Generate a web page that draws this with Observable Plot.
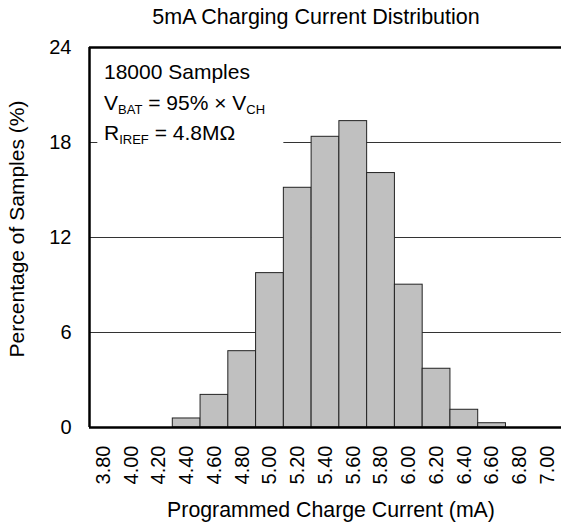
<!DOCTYPE html>
<html>
<head>
<meta charset="utf-8">
<script src="https://cdn.jsdelivr.net/npm/d3@7"></script>
<script src="https://cdn.jsdelivr.net/npm/@observablehq/plot@0.6"></script>
<style>
  html, body { margin: 0; padding: 0; background: #fff; }
  svg { display: block; }
</style>
</head>
<body>
<div id="chart"></div>
<script>
const categories = [3.80, 4.00, 4.20, 4.40, 4.60, 4.80, 5.00, 5.20, 5.40, 5.60, 5.80, 6.00, 6.20, 6.40, 6.60, 6.80, 7.00];
const percentages = [0, 0, 0, 0.57, 2.06, 4.82, 9.75, 15.14, 18.36, 19.35, 16.07, 9.02, 3.71, 1.12, 0.27, 0, 0];
const binHalfWidth = 0.1;
const xDomain = [3.7, 7.1];
const yTicks = [0, 6, 12, 18, 24];
const gridValues = [6, 12];
const titleText = "5mA Charging Current Distribution";
const xLabel = "Programmed Charge Current (mA)";
const yLabel = "Percentage of Samples (%)";

const data = categories.map((c, i) => ({x: c, pct: percentages[i]}));
const FONT = "'Liberation Sans', Arial, Helvetica, sans-serif";

const plot = Plot.plot({
  width: 561,
  height: 527,
  marginLeft: 89,
  marginRight: 0,
  marginTop: 47,
  marginBottom: 100,
  style: {fontFamily: FONT, fontSize: "20px", color: "#000", background: "#fff"},
  x: {domain: xDomain, ticks: categories, tickFormat: d3.format(".2f"), label: null, tickSize: 0, tickRotate: -90, tickPadding: 18},
  y: {domain: [0, 24], ticks: yTicks, label: null, tickSize: 0, tickPadding: 18},
  marks: [
    Plot.ruleY(gridValues, {stroke: "#333", strokeWidth: 1}),
    // 18% gridline: short stub at the axis, then resumes right of the annotation block
    Plot.ruleY([18], {x1: xDomain[0], x2: xDomain[0] + 0.06, stroke: "#333", strokeWidth: 1}),
    Plot.ruleY([18], {x1: categories[7] - binHalfWidth, x2: xDomain[1], stroke: "#333", strokeWidth: 1}),
    Plot.rectY(data, {x1: d => d.x - binHalfWidth, x2: d => d.x + binHalfWidth, y: "pct", fill: "#c0c0c0", stroke: "#222", strokeWidth: 1, inset: 0}),
    Plot.ruleY([0], {stroke: "#000", strokeWidth: 2.5}),
    Plot.ruleY([24], {stroke: "#000", strokeWidth: 2.5}),
    Plot.ruleX([xDomain[0]], {y1: 0, y2: 24, stroke: "#000", strokeWidth: 2.5})
  ]
});

const svg = d3.select(plot);
const g = svg.append("g").attr("font-family", FONT).attr("fill", "#000");

g.append("text").attr("x", 316).attr("y", 24).attr("text-anchor", "middle")
  .attr("font-size", 21.5).text(titleText);

g.append("text").attr("x", 331).attr("y", 517).attr("text-anchor", "middle")
  .attr("font-size", 21.3).text(xLabel);

g.append("text").attr("transform", "translate(24,229) rotate(-90)").attr("text-anchor", "middle")
  .attr("font-size", 21).text(yLabel);

// annotation
const ann = g.append("g").attr("font-size", 21).attr("text-anchor", "start");
ann.append("text").attr("x", 104).attr("y", 79).text("18000 Samples");

const l2 = ann.append("text").attr("x", 104).attr("y", 110);
l2.append("tspan").text("V");
l2.append("tspan").attr("font-size", 13).attr("dy", 4).text("BAT");
l2.append("tspan").attr("dy", -4).text(" = 95% × V");
l2.append("tspan").attr("font-size", 13).attr("dy", 4).text("CH");

const l3 = ann.append("text").attr("x", 104).attr("y", 140);
l3.append("tspan").text("R");
l3.append("tspan").attr("font-size", 13).attr("dy", 4).text("IREF");
l3.append("tspan").attr("dy", -4).text(" = 4.8MΩ");

document.getElementById("chart").appendChild(plot);
</script>
</body>
</html>
